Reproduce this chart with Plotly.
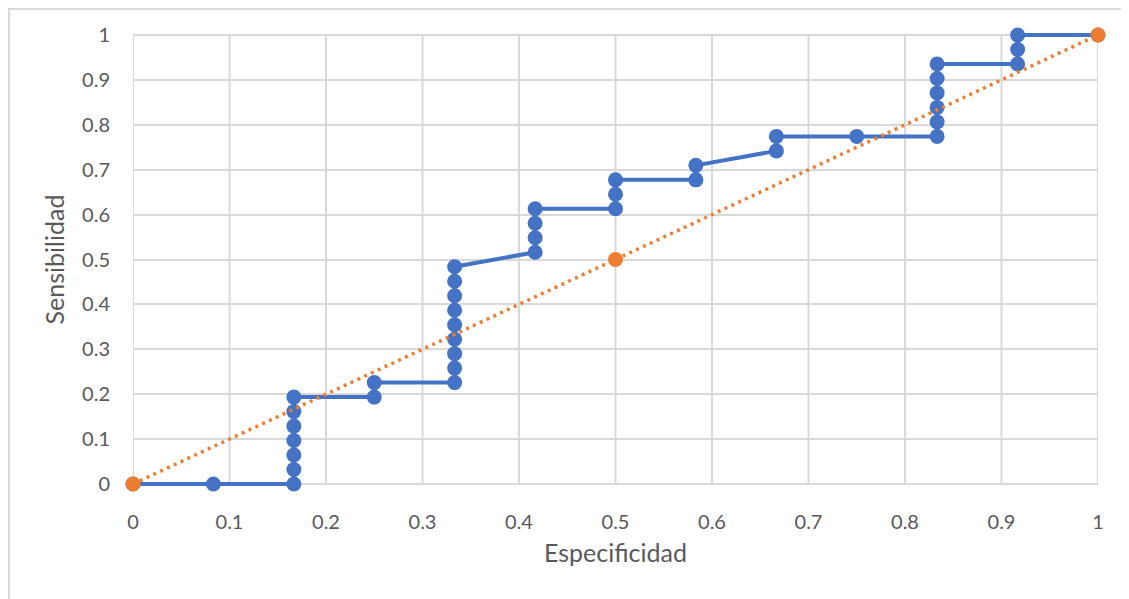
import plotly.graph_objects as go

# ROC curve values
roc_x = [0, 0.0833, 0.1667, 0.1667, 0.1667, 0.1667, 0.1667, 0.1667, 0.1667,
         0.25, 0.25, 0.3333, 0.3333, 0.3333, 0.3333, 0.3333, 0.3333, 0.3333, 0.3333, 0.3333,
         0.4167, 0.4167, 0.4167, 0.4167, 0.5, 0.5, 0.5, 0.5833, 0.5833,
         0.6667, 0.6667, 0.75, 0.8333, 0.8333, 0.8333, 0.8333, 0.8333, 0.8333,
         0.9167, 0.9167, 0.9167, 1]
roc_y = [0, 0, 0, 0.0323, 0.0645, 0.0968, 0.129, 0.1613, 0.1935,
         0.1935, 0.2258, 0.2258, 0.2581, 0.2903, 0.3226, 0.3548, 0.3871, 0.4194, 0.4516, 0.4839,
         0.5161, 0.5484, 0.5806, 0.6129, 0.6129, 0.6452, 0.6774, 0.6774, 0.7097,
         0.7419, 0.7742, 0.7742, 0.7742, 0.8065, 0.8387, 0.871, 0.9032, 0.9355,
         0.9355, 0.9677, 1, 1]

diag_x = [0, 0.5, 1]
diag_y = [0, 0.5, 1]

tick_vals = [0, 0.1, 0.2, 0.3, 0.4, 0.5, 0.6, 0.7, 0.8, 0.9, 1]
tick_text = ["0", "0.1", "0.2", "0.3", "0.4", "0.5", "0.6", "0.7", "0.8", "0.9", "1"]

BLUE = "#4472C4"
ORANGE = "#ED7D31"
GRID = "#D9D9D9"
TXT = "#595959"
FONT = "Lato, 'Open Sans', sans-serif"

PAD = 4 / 449  # small y padding so lines at 0 and 1 are not half clipped

fig = go.Figure()

# vertical gridlines drawn as shapes so they stop at y=0 and y=1
for v in tick_vals:
    fig.add_shape(type="line", xref="x", yref="y", x0=v, x1=v, y0=0, y1=1,
                  line=dict(color=GRID, width=2), layer="below")

fig.add_trace(go.Scatter(
    x=roc_x, y=roc_y, mode="lines+markers",
    line=dict(color=BLUE, width=4),
    marker=dict(color=BLUE, size=15),
    showlegend=False, cliponaxis=False,
))
fig.add_trace(go.Scatter(
    x=diag_x, y=diag_y, mode="lines+markers",
    line=dict(color=ORANGE, width=3.5, dash="3px,4.5px"),
    marker=dict(color=ORANGE, size=15),
    showlegend=False, cliponaxis=False,
))

common = dict(
    tickvals=tick_vals, ticktext=tick_text,
    zeroline=False, showline=False,
    tickfont=dict(family=FONT, size=20, color=TXT),
    ticks="", fixedrange=True,
)

fig.update_xaxes(**common, range=[0, 1], showgrid=False, ticklabelstandoff=20,
                 title=dict(text="Especificidad", font=dict(family=FONT, size=25, color=TXT), standoff=12))
fig.update_yaxes(**common, range=[-PAD, 1 + PAD], showgrid=True, gridcolor=GRID, gridwidth=2,
                 ticklabelstandoff=22,
                 title=dict(text="Sensibilidad", font=dict(family=FONT, size=25, color=TXT), standoff=10))

# outer chart frame
fig.add_shape(type="rect", xref="paper", yref="paper",
              x0=-0.1285, x1=1.06, y0=-0.32, y1=1.0481,
              line=dict(color="#D9D9D9", width=2), layer="below")

# page body has an 8px default margin, so offset the margins accordingly
fig.update_layout(
    width=1129, height=599,
    margin=dict(l=125, r=39, t=23, b=119, autoexpand=False),
    plot_bgcolor="white", paper_bgcolor="white",
    font=dict(family=FONT, color=TXT),
)

fig.write_html("out.html")
